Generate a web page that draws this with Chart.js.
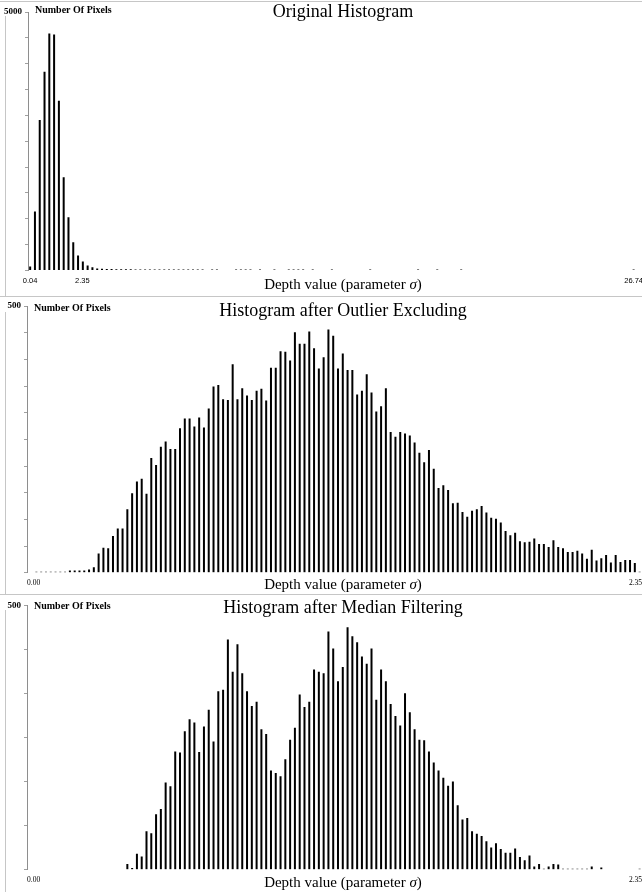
<!DOCTYPE html>
<html>
<head>
<meta charset="utf-8">
<title>Depth histograms</title>
<script src="https://cdn.jsdelivr.net/npm/chart.js@4.4.1/dist/chart.umd.min.js"></script>
<style>
  html, body { margin: 0; padding: 0; background: #fff; }
  body { width: 642px; height: 892px; position: relative; overflow: hidden; }
  canvas { position: absolute; left: 0; }
  .hline { position: absolute; left: 0; width: 642px; height: 1px; background: #c6c6c6; }
  .vline { position: absolute; left: 5px; width: 1px; background: #c6c6c6; }
</style>
</head>
<body>
<canvas id="originalChart" width="642" height="296" style="top:0px"></canvas>
<canvas id="outlierChart" width="642" height="298" style="top:296px"></canvas>
<canvas id="medianChart" width="642" height="298" style="top:594px"></canvas>

<div class="hline" style="top:1px"></div>
<div class="hline" style="top:296px"></div>
<div class="hline" style="top:594px"></div>
<div class="vline" style="top:16px; height:280px"></div>
<div class="vline" style="top:312px; height:282px"></div>
<div class="vline" style="top:610px; height:282px"></div>

<script>
// Number of pixels per depth bin (127 bins per histogram)
const originalCounts = [
  77, 1140, 2910, 3845, 4585, 4565, 3285, 1805, 1030, 547, 290, 174, 97, 64,
  38, 33, 30, 28, 26, 24, 23, 22, 21, 21, 20, 20, 20, 19, 19, 20, 19, 19, 18, 19, 18, 18, 19,
  0, 18, 18, 0, 0, 0, 18, 18, 18, 18,
  0, 18, 0, 0, 18, 0, 0, 18, 18, 18,
  18, 0, 18, 0, 0, 0, 18, 0, 0, 0,
  0, 0, 0, 0, 18, 0, 0, 0, 0, 0,
  0, 0, 0, 0, 18, 0, 0, 0, 18, 0,
  0, 0, 0, 18, 0, 0, 0, 0, 0, 0,
  0, 0, 0, 0, 0, 0, 0, 0, 0, 0,
  0, 0, 0, 0, 0, 0, 0, 0, 0, 0,
  0, 0, 0, 0, 0, 0, 0, 0, 0, 18
];

const outlierCounts = [
  2, 2, 2, 2, 2, 2, 2, 4, 4, 4, 4,
  6, 10, 36, 47, 46, 69, 83, 83, 119, 149, 171, 176, 148, 215, 202, 236, 246, 232, 232, 271,
  289, 289, 274, 291, 272, 308, 349, 352, 325, 324, 391,
  325, 346, 332, 324, 341, 345, 323, 384, 384, 415,
  414, 398, 451, 429, 429, 452, 421, 383, 404, 456,
  444, 383, 411, 380, 380, 334, 341, 372, 338, 302,
  312, 346, 264, 255, 264, 261, 257, 244, 225, 207,
  230, 195, 159, 164,
  155, 130, 131, 114, 105, 116, 119, 125, 113, 103,
  101, 94, 78, 70, 75, 59, 57, 58, 64, 54,
  54, 48, 61, 48, 46, 39, 39, 41, 36, 26,
  43, 23, 27, 33, 19, 33, 20, 24, 24, 18,
  2
];

const medianCounts = [
  0, 0, 0, 0, 0, 0, 0, 0, 0, 0, 0, 0, 0, 0, 0, 0, 0, 0, 0,
  11, 3,
  30, 25, 73, 69, 105, 115, 165, 158, 224, 222,
  262, 285, 279, 223, 271, 303, 243, 338, 341, 436,
  375,
  427, 372, 338, 310, 318, 266, 257, 188, 183, 177,
  209, 246, 269, 332, 308, 318, 379, 375, 372, 451,
  419, 357, 384, 459, 442, 431, 404, 390, 419, 322,
  379, 357, 314, 291, 273, 334, 298, 266, 246, 245,
  224, 203, 188, 174,
  159, 167, 122, 95, 98, 73, 68, 64, 54, 42,
  50, 39, 32, 32, 40, 24, 18, 27, 6, 11,
  2, 6, 11, 10, 2, 2, 2, 2, 2, 2,
  6, 0, 4, 0, 0, 0, 0, 0, 0, 0,
  2
];

// depth range covered by the bins (first and last bin centre)
const originalRange = [0.04, 26.74];
const filteredRange = [0.00, 2.35];

// tick labels
const originalXTicks = [0.04, 2.35, 26.74];
const filteredXTicks = [0.00, 2.35];
const originalYTicks = [0, 500, 1000, 1500, 2000, 2500, 3000, 3500, 4000, 4500, 5000];
const outlierYTicks = [0, 50, 100, 150, 200, 250, 300, 350, 400, 450, 500];
const medianYTicks = [0, 83.33, 166.67, 250, 333.33, 416.67, 500];

const titles = ['Original Histogram', 'Histogram after Outlier Excluding', 'Histogram after Median Filtering'];
const valueCaption = 'Number Of Pixels';

// bin centres for a histogram, evenly spread over its range
function binCentres(range, n) {
  const step = (range[1] - range[0]) / (n - 1);
  return Array.from({ length: n }, (_, i) => +(range[0] + i * step).toFixed(5));
}

// draws the panel title, the caption next to the value axis and the depth axis title
const panelText = {
  id: 'panelText',
  afterDraw(chart, args, opts) {
    const ctx = chart.ctx;
    const area = chart.chartArea;
    ctx.save();
    ctx.fillStyle = '#000';
    ctx.textBaseline = 'alphabetic';

    ctx.textAlign = 'left';
    ctx.font = 'bold 10px "Liberation Serif"';
    ctx.fillText(valueCaption, area.left + opts.captionDx, opts.captionY);

    ctx.textAlign = 'center';
    ctx.font = '18px "Liberation Serif"';
    ctx.fillText(opts.title, opts.centerX, opts.titleY);

    // "Depth value (parameter σ)" with an italic sigma
    const parts = [['Depth value (parameter ', ''], ['\u03c3', 'italic '], [')', '']];
    let total = 0;
    parts.forEach(p => {
      ctx.font = p[1] + '15px "Liberation Serif"';
      p.push(ctx.measureText(p[0]).width);
      total += p[2];
    });
    let x = opts.centerX - total / 2;
    ctx.textAlign = 'left';
    parts.forEach(p => {
      ctx.font = p[1] + '15px "Liberation Serif"';
      ctx.fillText(p[0], x, opts.xTitleY);
      x += p[2];
    });
    ctx.restore();
  }
};

function drawHistogram(canvasId, p) {
  const centres = binCentres(p.range, p.counts.length);
  const step = centres[1] - centres[0];
  const ctx = document.getElementById(canvasId).getContext('2d');
  return new Chart(ctx, {
    type: 'bar',
    data: {
      labels: centres,
      datasets: [{
        data: p.counts,
        backgroundColor: '#000',
        borderWidth: 0,
        inflateAmount: 0,
        barThickness: 2,
      }],
    },
    plugins: [panelText],
    options: {
      responsive: false,
      animation: false,
      events: [],
      layout: { padding: { left: 0, right: p.padRight, top: p.top, bottom: 0 } },
      plugins: {
        legend: { display: false },
        tooltip: { enabled: false },
        title: { display: false },
        panelText: {
          title: p.title,
          centerX: 343,
          titleY: p.titleY,
          captionY: p.captionY,
          captionDx: 7,
          xTitleY: p.xTitleY,
        },
      },
      scales: {
        x: {
          type: 'linear',
          offset: false,
          min: p.range[0] - p.leftBins * step,
          max: p.range[1] + step / 2,
          // range labels either at their own value or at both ends of the axis
          afterBuildTicks: s => {
            const vals = p.ticksAtEnds ? [s.min, s.max] : p.xTicks;
            s.ticks = vals.map(v => ({ value: v }));
          },
          afterFit: s => { s.height = p.xAxisHeight; s.paddingLeft = 0; s.paddingRight = 0; },
          border: { display: false },
          grid: { display: true, offset: false, drawOnChartArea: false, drawTicks: true, tickLength: 6, color: 'rgba(0,0,0,0)' },
          ticks: {
            padding: 0,
            maxRotation: 0,
            autoSkip: false,
            align: p.xAlign,
            color: '#000',
            font: { family: p.xFont, size: 7.5 },
            callback: (v, i) => p.xTicks[i].toFixed(2),
          },
        },
        y: {
          min: 0,
          max: p.yTicks[p.yTicks.length - 1],
          afterBuildTicks: s => { s.ticks = p.yTicks.map(v => ({ value: v })); },
          afterFit: s => { s.width = p.yAxisWidth; },
          border: { display: true, color: '#8e8e8e' },
          grid: { display: true, drawOnChartArea: false, drawTicks: true, tickLength: 3, color: '#a0a0a0' },
          ticks: {
            padding: 3,
            color: '#000',
            font: { family: 'Liberation Serif', size: 9, weight: 'bold' },
            callback: (v, i, ticks) => (i === ticks.length - 1 ? String(Math.round(v)) : ''),
          },
        },
      },
    },
  });
}

drawHistogram('originalChart', {
  counts: originalCounts, range: originalRange, xTicks: originalXTicks, yTicks: originalYTicks,
  title: titles[0], leftBins: 0.45, padRight: 6, top: 12, xAxisHeight: 25.5, yAxisWidth: 28,
  ticksAtEnds: false, xAlign: 'center', xFont: 'Liberation Sans', titleY: 17, captionY: 13, xTitleY: 289,
});

drawHistogram('outlierChart', {
  counts: outlierCounts, range: filteredRange, xTicks: filteredXTicks, yTicks: outlierYTicks,
  title: titles[1], leftBins: 1.96, padRight: 0, top: 10, xAxisHeight: 21.3, yAxisWidth: 27,
  ticksAtEnds: true, xAlign: 'inner', xFont: 'Liberation Serif', titleY: 20, captionY: 15, xTitleY: 293,
});

drawHistogram('medianChart', {
  counts: medianCounts, range: filteredRange, xTicks: filteredXTicks, yTicks: medianYTicks,
  title: titles[2], leftBins: 1.96, padRight: 0, top: 11.7, xAxisHeight: 22.3, yAxisWidth: 27,
  ticksAtEnds: true, xAlign: 'inner', xFont: 'Liberation Serif', titleY: 19, captionY: 15, xTitleY: 293,
});
</script>
</body>
</html>
